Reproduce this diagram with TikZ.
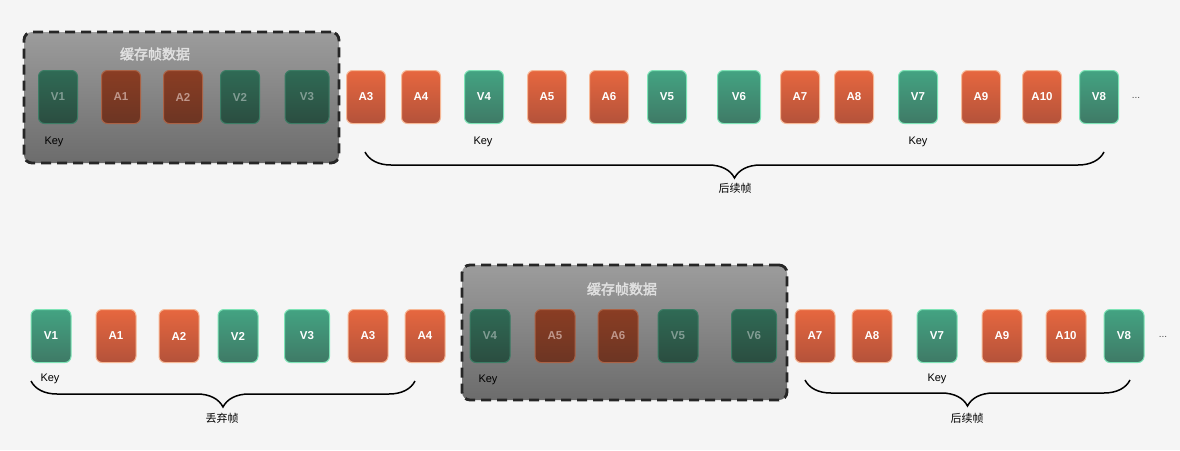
\documentclass[tikz,border=0pt]{standalone}
\usepackage{fontspec}
\setmainfont{Liberation Sans}
\newfontfamily\cjk[AutoFakeBold=2.5]{Noto Sans CJK SC}
\usetikzlibrary{decorations.pathreplacing}
\definecolor{bgc}{HTML}{F5F5F5}
\definecolor{atop}{HTML}{E6673F}
\definecolor{abot}{HTML}{B4523A}
\definecolor{aedge}{HTML}{F6B896}
\definecolor{vtop}{HTML}{43A382}
\definecolor{vbot}{HTML}{3F7A66}
\definecolor{vedge}{HTML}{7EE3B6}
\definecolor{adtop}{HTML}{8A3D23}
\definecolor{adbot}{HTML}{6C3523}
\definecolor{vdtop}{HTML}{2F6A55}
\definecolor{vdbot}{HTML}{2B4D40}
\definecolor{gtop}{HTML}{9C9C9C}
\definecolor{gbot}{HTML}{6C6C6C}
\tikzset{
  frame/.style={minimum height=53pt, rounded corners=6pt, line width=1pt,
    inner sep=0pt, font=\bfseries\fontsize{11.5}{13}\selectfont, text=white},
  abox/.style={frame, draw=aedge, top color=atop, bottom color=abot},
  vbox/.style={frame, draw=vedge, top color=vtop, bottom color=vbot},
  adim/.style={frame, draw=adtop!70!aedge, top color=adtop, bottom color=adbot, text=atop!40!white!78!black},
  vdim/.style={frame, draw=vdtop!85!vedge, top color=vdtop, bottom color=vdbot, text=vtop!40!white!72!black},
  cache/.style={draw=black!85, line width=2.8pt, dash pattern=on 10pt off 6pt,
    rounded corners=8pt, top color=gtop, bottom color=gbot},
  title/.style={text=white!88!black, font=\cjk\bfseries\fontsize{14}{16}\selectfont},
  keylbl/.style={font=\fontsize{11}{13}\selectfont},
  lbl/.style={font=\cjk\fontsize{11}{13}\selectfont},
  curly/.style={decorate, decoration={brace, mirror, amplitude=26pt}, line width=1.5pt},
  more/.style={text=black!70, font=\fontsize{10}{12}\selectfont}
}
\begin{document}
\begin{tikzpicture}[x=1pt, y=-1pt]
  \fill[bgc] (0,0) rectangle (1180,450);
  \useasboundingbox (0,0) rectangle (1180,450);

  % top row
  \node[cache, minimum width=315pt, minimum height=131pt] (tcache) at (181.5,97.5) {};
  \node[title] (ttitle) at (155,54) {缓存帧数据};
  \foreach \n/\x/\s/\w in {V1/58/vdim/39, A1/121/adim/39, A2/183/adim/39, V2/240/vdim/39,
      V3/307/vdim/44, A3/366/abox/39, A4/421/abox/39, V4/484/vbox/39, A5/547/abox/39,
      A6/609/abox/39, V5/667/vbox/39, V6/739/vbox/43, A7/800/abox/39, A8/854/abox/39,
      V7/918/vbox/39, A9/981/abox/39, A10/1042/abox/39, V8/1099/vbox/39}
    \node[\s, minimum width=\w pt] (t\n) at (\x,97) {\n};
  \node[more] (tmore) at (1136,98) {...};
  \node[keylbl] (tkey1) at (54,142) {Key};
  \node[keylbl] (tkey2) at (483,142) {Key};
  \node[keylbl] (tkey3) at (918,142) {Key};
  \coordinate (tb1) at (365,152);
  \coordinate (tb2) at (1104,152);
  \draw[curly] (tb1) -- (tb2);
  \node[lbl] (tnext) at (735,188) {后续帧};

  % bottom row
  \node[cache, minimum width=325pt, minimum height=135pt] (bcache) at (624.5,332.5) {};
  \node[title] (btitle) at (622,289) {缓存帧数据};
  \foreach \n/\x/\s/\w in {V1/51/vbox/40, A1/116/abox/40, A2/179/abox/40, V2/238/vbox/40,
      V3/307/vbox/45, A3/368/abox/40, A4/425/abox/40, V4/490/vdim/40, A5/555/adim/40,
      A6/618/adim/40, V5/678/vdim/40, V6/754/vdim/45, A7/815/abox/40, A8/872/abox/40,
      V7/937/vbox/40, A9/1002/abox/40, A10/1066/abox/40, V8/1124/vbox/40}
    \node[\s, minimum width=\w pt] (b\n) at (\x,336) {\n};
  \node[more] (bmore) at (1163,337) {...};
  \node[keylbl] (bkey1) at (50,379) {Key};
  \node[keylbl] (bkey2) at (488,380) {Key};
  \node[keylbl] (bkey3) at (937,379) {Key};
  \coordinate (bb1) at (31,381);
  \coordinate (bb2) at (415,381);
  \draw[curly] (bb1) -- (bb2);
  \node[lbl] (bdrop) at (222,418) {丢弃帧};
  \coordinate (bb3) at (805,380);
  \coordinate (bb4) at (1130,380);
  \draw[curly] (bb3) -- (bb4);
  \node[lbl] (bnext) at (967,418) {后续帧};
\end{tikzpicture}
\end{document}
